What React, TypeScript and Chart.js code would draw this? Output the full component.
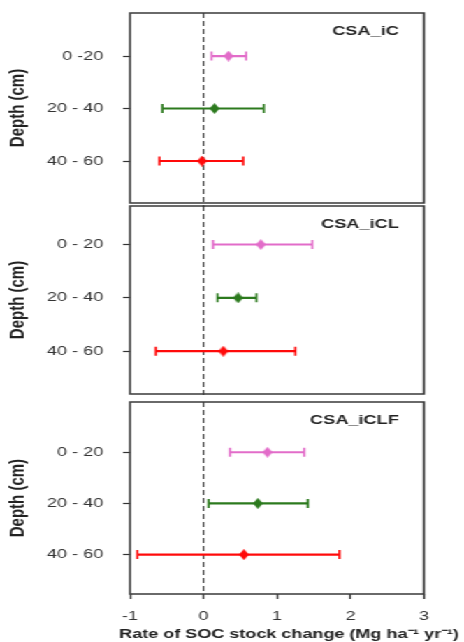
import React, { useEffect, useRef } from "react";
import { Chart, registerables } from "chart.js";

Chart.register(...registerables);

// ---------- data ----------
const panelNames = ["CSA_iC", "CSA_iCL", "CSA_iCLF"];
const depthTicksIC = ["0 -20", "20 - 40", "40 - 60"];
const depthTicks = ["0 - 20", "20 - 40", "40 - 60"];
const xTickValues = [-1, 0, 1, 2, 3];

const iCMean = [0.34, 0.15, -0.02];
const iCLow = [0.11, -0.56, -0.6];
const iCHigh = [0.58, 0.82, 0.54];

const iCLMean = [0.78, 0.47, 0.27];
const iCLLow = [0.13, 0.19, -0.65];
const iCLHigh = [1.48, 0.72, 1.25];

const iCLFMean = [0.87, 0.74, 0.55];
const iCLFLow = [0.36, 0.07, -0.9];
const iCLFHigh = [1.37, 1.42, 1.85];

const depthColors = ["#E26CC9", "#2C7A1E", "#FF0A0A"];

const xTitle = "Rate of SOC stock change (Mg ha\u207B\u00B9 yr\u207B\u00B9)";
const yTitle = "Depth (cm)";

// ---------- layout ----------
const INNER_W = 332;
const STRETCH = 464 / INNER_W;
const FONT = '"Liberation Sans", Arial, Helvetica, sans-serif';

type Panel = {
  name: string;
  ticks: string[];
  mean: number[];
  low: number[];
  high: number[];
  top: number;
  height: number;
  padTop: number;
  padBottom: number;
  yMin: number;
  yMax: number;
  bottomAxis: boolean;
  extendBottom: number;
};

const panels: Panel[] = [
  { name: panelNames[0], ticks: depthTicksIC, mean: iCMean, low: iCLow, high: iCHigh,
    top: 0, height: 210, padTop: 13, padBottom: 7, yMin: 0.18, yMax: 3.8, bottomAxis: false, extendBottom: 4 },
  { name: panelNames[1], ticks: depthTicks, mean: iCLMean, low: iCLLow, high: iCLHigh,
    top: 200, height: 200, padTop: 6, padBottom: 3, yMin: 0.28, yMax: 3.8, bottomAxis: false, extendBottom: 4 },
  { name: panelNames[2], ticks: depthTicks, mean: iCLFMean, low: iCLFLow, high: iCLFHigh,
    top: 396, height: 246, padTop: 6, padBottom: 0, yMin: 0.02, yMax: 3.77, bottomAxis: true, extendBottom: 0 },
];

function diamond(color: string): HTMLCanvasElement {
  const c = document.createElement("canvas");
  const w = 7;
  const h = 11;
  c.width = w;
  c.height = h;
  const g = c.getContext("2d")!;
  g.fillStyle = color;
  g.beginPath();
  g.moveTo(w / 2, 0);
  g.lineTo(w, h / 2);
  g.lineTo(w / 2, h);
  g.lineTo(0, h / 2);
  g.closePath();
  g.fill();
  return c;
}

const panelDecor = {
  id: "panelDecor",
  beforeDatasetsDraw(chart: any, _args: any, opts: any) {
    const { ctx, chartArea: a, scales } = chart;
    const x0 = scales.x.getPixelForValue(0);
    ctx.save();
    ctx.strokeStyle = "#333";
    ctx.lineWidth = 1.1;
    ctx.setLineDash([5, 3]);
    ctx.beginPath();
    ctx.moveTo(x0, a.top);
    ctx.lineTo(x0, a.bottom + (opts.extendBottom || 0));
    ctx.stroke();
    ctx.restore();
  },
  afterDraw(chart: any, _args: any, opts: any) {
    const { ctx, chartArea: a } = chart;
    ctx.save();
    ctx.setLineDash([]);
    ctx.strokeStyle = "#3a3a3a";
    ctx.lineWidth = 1.5;
    ctx.beginPath();
    ctx.moveTo(a.left, a.top);
    ctx.lineTo(a.right, a.top);
    ctx.lineTo(a.right, a.bottom);
    ctx.lineTo(a.left, a.bottom);
    ctx.closePath();
    ctx.stroke();
    ctx.fillStyle = "#222";
    ctx.font = `bold 13px ${FONT}`;
    ctx.textAlign = "right";
    ctx.textBaseline = "middle";
    ctx.fillText(opts.title, a.right - 18, a.top + 18);
    if (opts.xTitle) {
      ctx.font = `bold 12.9px ${FONT}`;
      ctx.textAlign = "center";
      ctx.textBaseline = "middle";
      ctx.fillText(opts.xTitle, 289 / STRETCH, chart.height - 8);
    }
    ctx.restore();
  },
};

function buildConfig(p: Panel): any {
  const datasets: any[] = [];
  for (let i = 0; i < 3; i++) {
    datasets.push({
      data: [{ x: p.mean[i], y: i + 1 }],
      pointStyle: diamond(depthColors[i]),
      pointRadius: 5,
      pointHoverRadius: 5,
      order: 0,
    });
    datasets.push({
      data: [
        { x: p.low[i], y: i + 1 },
        { x: p.high[i], y: i + 1 },
      ],
      showLine: true,
      borderColor: depthColors[i],
      borderWidth: 2.2,
      pointStyle: "line",
      pointRotation: 90,
      pointRadius: 4.5,
      pointHoverRadius: 4.5,
      pointBorderColor: depthColors[i],
      pointBorderWidth: 1.6,
      order: 1,
    });
  }

  const xScale: any = {
    type: "linear",
    min: xTickValues[0],
    max: xTickValues[xTickValues.length - 1],
    display: p.bottomAxis,
    afterBuildTicks: (s: any) => {
      s.ticks = xTickValues.map((v) => ({ value: v }));
    },
    ticks: {
      font: { family: FONT, size: 13 },
      color: "#333",
      padding: 10,
      maxRotation: 0,
    },
    grid: { drawOnChartArea: false, drawTicks: true, tickLength: 5, tickColor: "#333", tickWidth: 1.3 },
    border: { display: false },
    title: { display: false },
  };
  if (p.bottomAxis) {
    xScale.afterFit = (s: any) => {
      s.height = 48;
      s.paddingLeft = 0;
      s.paddingRight = 0;
    };
  }

  return {
    type: "scatter",
    data: { datasets },
    plugins: [panelDecor],
    options: {
      animation: false,
      responsive: false,
      events: [],
      layout: {
        padding: { top: p.padTop, bottom: p.padBottom, left: 0, right: INNER_W - 424 / STRETCH },
      },
      plugins: {
        legend: { display: false },
        tooltip: { enabled: false },
        panelDecor: { title: p.name, extendBottom: p.extendBottom, xTitle: p.bottomAxis ? xTitle : "" },
      },
      scales: {
        x: xScale,
        y: {
          type: "linear",
          reverse: true,
          min: p.yMin,
          max: p.yMax,
          afterBuildTicks: (s: any) => {
            s.ticks = p.ticks.map((_t, i) => ({ value: i + 1 }));
          },
          afterFit: (s: any) => {
            s.width = 130 / STRETCH;
            s.paddingTop = 0;
            s.paddingBottom = 0;
          },
          ticks: {
            callback: (_v: any, i: number) => p.ticks[i],
            font: { family: FONT, size: 13 },
            color: "#333",
            padding: 14,
          },
          grid: { drawOnChartArea: false, drawTicks: true, tickLength: 5, tickColor: "#333", tickWidth: 1.2 },
          border: { display: false },
          title: {
            display: true,
            text: yTitle,
            color: "#222",
            font: { family: FONT, size: 15, weight: "bold" },
            padding: { top: 4, bottom: 0 },
          },
        },
      },
    },
  };
}

export default function App() {
  const r0 = useRef<HTMLCanvasElement>(null);
  const r1 = useRef<HTMLCanvasElement>(null);
  const r2 = useRef<HTMLCanvasElement>(null);
  const refs = [r0, r1, r2];

  useEffect(() => {
    const charts = panels.map((p, i) => new Chart(refs[i].current!, buildConfig(p)));
    return () => charts.forEach((c) => c.destroy());
  }, []);

  return (
    <div
      style={{
        position: "absolute",
        left: 0,
        top: 0,
        width: INNER_W,
        height: 642,
        transform: `scaleX(${STRETCH})`,
        transformOrigin: "0 0",
        background: "#fff",
      }}
    >
      {panels.map((p, i) => (
        <canvas
          key={p.name}
          ref={refs[i]}
          width={INNER_W}
          height={p.height}
          style={{ position: "absolute", left: 0, top: p.top, width: INNER_W, height: p.height }}
        />
      ))}
    </div>
  );
}
